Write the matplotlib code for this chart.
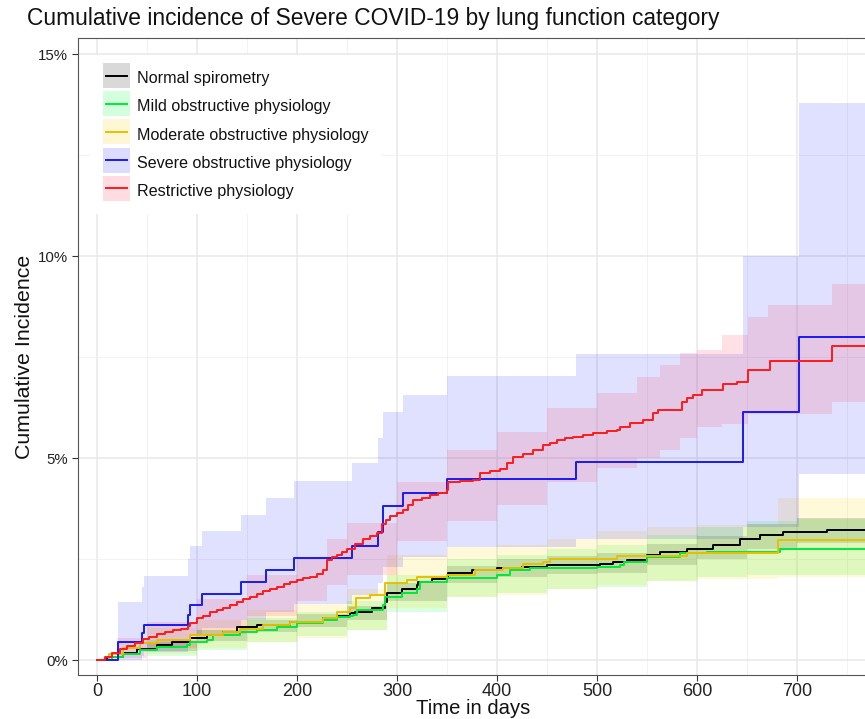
import matplotlib
matplotlib.use("Agg")
import matplotlib.pyplot as plt
from matplotlib.patches import Rectangle
from matplotlib.lines import Line2D
from matplotlib.legend_handler import HandlerBase

plt.rcParams['font.family'] = ['Liberation Sans', 'DejaVu Sans']

title = "Cumulative incidence of Severe COVID-19 by lung function category"
xlabel = "Time in days"
ylabel = "Cumulative Incidence"
x_ticks = [0, 100, 200, 300, 400, 500, 600, 700]
y_ticks = [0, 5, 10, 15]
y_tick_labels = ["0%", "5%", "10%", "15%"]

labels = ["Normal spirometry", "Mild obstructive physiology",
          "Moderate obstructive physiology", "Severe obstructive physiology",
          "Restrictive physiology"]

# ---- Normal spirometry
normal_t = [0, 10, 26, 40, 60, 75, 93, 110, 126, 140, 160, 193, 226, 240, 253, 258, 275, 288, 290, 305,
            320, 321, 335, 350, 351, 375, 400, 425, 450, 483, 503, 516, 530, 550, 563, 590, 616, 643,
            663, 686, 730, 770]
normal_v = [0, 0.08, 0.17, 0.27, 0.37, 0.45, 0.54, 0.62, 0.70, 0.82, 0.87, 0.95, 1.03, 1.10, 1.16, 1.20,
            1.30, 1.44, 1.65, 1.75, 1.86, 1.94, 2.00, 2.06, 2.16, 2.22, 2.27, 2.31, 2.35, 2.35, 2.39, 2.42,
            2.48, 2.60, 2.68, 2.76, 2.85, 2.99, 3.09, 3.18, 3.22, 3.22]
normal_ci_t = [0, 50, 100, 150, 200, 250, 290, 350, 400, 450, 500, 550, 600, 650, 700, 770]
normal_lo = [0, 0.22, 0.47, 0.70, 0.82, 0.98, 1.45, 1.90, 2.05, 2.12, 2.15, 2.35, 2.50, 2.75, 2.90, 2.92]
normal_hi = [0, 0.45, 0.75, 1.00, 1.13, 1.33, 1.90, 2.32, 2.50, 2.58, 2.65, 2.88, 3.08, 3.38, 3.52, 3.55]

# ---- Mild obstructive
mild_t = [0, 15, 26, 43, 60, 90, 93, 110, 116, 143, 160, 180, 200, 226, 240, 253, 256, 260, 286, 288,
          305, 320, 323, 350, 400, 413, 433, 466, 500, 523, 527, 550, 583, 610, 683, 770]
mild_v = [0, 0.07, 0.15, 0.25, 0.33, 0.37, 0.45, 0.50, 0.62, 0.70, 0.74, 0.82, 0.91, 0.99, 1.07, 1.09,
          1.11, 1.24, 1.36, 1.57, 1.65, 1.77, 1.94, 2.02, 2.10, 2.23, 2.27, 2.29, 2.31, 2.35, 2.43, 2.56,
          2.64, 2.68, 2.75, 2.75]
mild_ci_t = [0, 50, 100, 150, 200, 250, 290, 350, 400, 450, 500, 550, 600, 650, 700, 770]
mild_lo = [0, 0.10, 0.25, 0.45, 0.60, 0.75, 1.20, 1.55, 1.65, 1.75, 1.80, 1.95, 2.05, 2.10, 2.10, 2.10]
mild_hi = [0, 0.50, 0.75, 1.05, 1.20, 1.45, 2.10, 2.50, 2.60, 2.75, 2.85, 3.10, 3.30, 3.45, 3.50, 3.50]

# ---- Moderate obstructive
mod_t = [0, 12, 26, 43, 60, 93, 126, 143, 166, 193, 226, 240, 253, 259, 273, 288, 310, 320, 350, 378,
         406, 426, 446, 453, 520, 590, 681, 770]
mod_v = [0, 0.15, 0.29, 0.41, 0.50, 0.62, 0.70, 0.78, 0.87, 0.95, 1.03, 1.20, 1.28, 1.53, 1.61, 1.90,
         1.98, 2.06, 2.10, 2.23, 2.27, 2.39, 2.43, 2.49, 2.58, 2.66, 2.97, 2.97]
mod_ci_t = [0, 50, 100, 150, 200, 250, 290, 350, 400, 450, 500, 550, 600, 681, 770]
mod_lo = [0, 0.15, 0.30, 0.45, 0.55, 0.75, 1.30, 1.55, 1.60, 1.75, 1.85, 1.95, 2.00, 2.05, 2.05]
mod_hi = [0, 0.80, 1.00, 1.25, 1.40, 1.75, 2.60, 2.80, 2.85, 3.00, 3.20, 3.30, 3.35, 4.00, 4.00]

# ---- Severe obstructive
sev_t = [0, 21, 45, 47, 91, 93, 105, 144, 169, 197, 255, 281, 286, 306, 350, 479, 646, 702, 770]
sev_v = [0, 0.44, 0.66, 0.87, 1.11, 1.36, 1.63, 1.92, 2.23, 2.52, 2.83, 3.18, 3.81, 4.14, 4.48, 4.91,
         6.13, 8.00, 8.00]
sev_lo = [0, 0.0, 0.10, 0.20, 0.45, 0.60, 0.80, 1.00, 1.20, 1.40, 1.60, 1.90, 2.30, 2.55, 2.80, 3.00,
          3.30, 4.60, 4.60]
sev_hi = [0, 1.44, 1.80, 2.09, 2.50, 2.82, 3.19, 3.60, 4.00, 4.43, 4.87, 5.50, 6.15, 6.56, 7.03, 7.57,
          10.0, 13.8, 13.8]

# ---- Restrictive
res_t = [0, 8, 15, 23, 30, 38, 46, 52, 60, 68, 76, 84, 91, 93, 100, 106, 113, 120, 126, 133, 140, 146,
         153, 160, 166, 173, 180, 187, 193, 200, 206, 213, 220, 226, 230, 235, 240, 245, 250, 258, 266,
         273, 280, 285, 289, 293, 300, 306, 311, 316, 325, 333, 341, 350, 351, 363, 376, 383, 393, 403,
         410, 416, 426, 436, 446, 453, 460, 468, 476, 486, 496, 510, 520, 523, 533, 546, 556, 561, 585,
         590, 596, 605, 626, 640, 651, 673, 735, 770]
res_v = [0, 0.08, 0.17, 0.28, 0.36, 0.42, 0.52, 0.58, 0.64, 0.70, 0.74, 0.78, 0.84, 0.92, 1.03, 1.10,
         1.18, 1.25, 1.30, 1.36, 1.43, 1.50, 1.57, 1.63, 1.70, 1.77, 1.82, 1.88, 1.94, 1.98, 2.02, 2.06,
         2.12, 2.23, 2.48, 2.54, 2.60, 2.68, 2.76, 2.88, 3.00, 3.07, 3.14, 3.38, 3.47, 3.56, 3.63, 3.71,
         3.83, 3.96, 4.02, 4.08, 4.14, 4.20, 4.41, 4.43, 4.46, 4.64, 4.69, 4.74, 4.88, 5.03, 5.10, 5.20,
         5.32, 5.38, 5.45, 5.49, 5.53, 5.58, 5.63, 5.66, 5.69, 5.78, 5.88, 5.94, 6.11, 6.20, 6.40, 6.48,
         6.56, 6.68, 6.83, 6.88, 7.18, 7.41, 7.77, 7.77]
res_ci_t = [0, 20, 50, 100, 150, 200, 230, 250, 300, 350, 400, 450, 500, 540, 563, 583, 600, 625, 651,
            671, 735, 770]
res_lo = [0, 0.05, 0.30, 0.65, 1.10, 1.45, 1.85, 2.10, 2.95, 3.45, 3.85, 4.40, 4.75, 5.00, 5.20, 5.50,
          5.78, 5.85, 6.10, 6.10, 6.40, 6.40]
res_hi = [0, 0.55, 0.95, 1.50, 2.10, 2.55, 3.00, 3.40, 4.40, 5.20, 5.65, 6.25, 6.60, 7.00, 7.30, 7.59,
          7.67, 8.04, 8.50, 8.79, 9.32, 9.32]

line_colors = ["#000000", "#00E83A", "#E6C000", "#1A1AF0", "#FF1A1A"]
fill_colors = ["#000000", "#00FF33", "#FFD500", "#3333FF", "#FF3355"]
fill_alpha = [0.15, 0.15, 0.15, 0.15, 0.15]

series = [
    (normal_t, normal_v, normal_ci_t, normal_lo, normal_hi),
    (mild_t, mild_v, mild_ci_t, mild_lo, mild_hi),
    (mod_t, mod_v, mod_ci_t, mod_lo, mod_hi),
    (sev_t, sev_v, sev_t, sev_lo, sev_hi),
    (res_t, res_v, res_ci_t, res_lo, res_hi),
]

fs_title, fs_xlab, fs_ylab, fs_tick_x, fs_tick_y, fs_leg = 16.4, 14.6, 15.4, 13.0, 10.8, 11.6

W, H = 865, 719
fig = plt.figure(figsize=(W / 100, H / 100), dpi=100)
L, R, T, B = 78, 868, 38, 675
ax = fig.add_axes([L / W, 1 - B / H, (R - L) / W, (B - T) / H])

for i, (t, v, ct, lo, hi) in enumerate(series):
    ax.fill_between(ct, lo, hi, step='post', color=fill_colors[i], alpha=fill_alpha[i],
                    linewidth=0, zorder=1)
for i, (t, v, ct, lo, hi) in enumerate(series):
    ax.step(t, v, where='post', color=line_colors[i], lw=1.4, zorder=3)

ax.set_xlim(-19, 771)
ax.set_ylim(-0.37, 15.4)
ax.set_xticks(x_ticks)
ax.set_xticks([50, 150, 250, 350, 450, 550, 650, 750], minor=True)
ax.set_yticks(y_ticks)
ax.set_yticklabels(y_tick_labels)
ax.set_yticks([2.5, 7.5, 12.5], minor=True)
ax.grid(True, which='major', color='#E8E8E8', lw=1.1, zorder=0)
ax.grid(True, which='minor', color='#F0F0F0', lw=0.6, zorder=0)
ax.set_axisbelow(True)
ax.tick_params(which='major', length=4, width=0.8, color='#333333', labelcolor='#222222', pad=3)
ax.tick_params(axis='x', labelsize=fs_tick_x, pad=2)
ax.tick_params(axis='y', labelsize=fs_tick_y)
ax.tick_params(which='minor', length=0)
for s in ['left', 'bottom', 'top']:
    ax.spines[s].set_color('#555555')
    ax.spines[s].set_linewidth(0.8)
ax.spines['right'].set_visible(False)

ax.set_xlabel(xlabel, fontsize=fs_xlab, labelpad=-1, color='#111111')
ax.set_ylabel(ylabel, fontsize=fs_ylab, labelpad=3, color='#111111')
fig.text(27 / W, 1 - 19 / H, title, fontsize=fs_title, va='center', ha='left', color='#111111')


class KeyHandler(HandlerBase):
    def create_artists(self, legend, orig_handle, xdescent, ydescent, width, height, fontsize, trans):
        lc, fc, fa = orig_handle
        rect = Rectangle((-xdescent, -ydescent), width, height + ydescent,
                         facecolor=fc, alpha=fa, edgecolor='none', transform=trans)
        yc = (height - ydescent) / 2
        ln = Line2D([-xdescent + 2, -xdescent + width - 2], [yc, yc], color=lc, lw=1.4,
                    transform=trans)
        return [rect, ln]


handles = [(line_colors[i], fill_colors[i], 0.15 if i == 0 else 0.17) for i in range(5)]
fs_px = fs_leg * 100 / 72
leg = ax.legend(handles, labels, handler_map={tuple: KeyHandler()},
                loc='upper left', bbox_to_anchor=((90 - L) / (R - L), 1 - (55 - T) / (B - T)),
                fontsize=fs_leg, frameon=True, fancybox=False, framealpha=1.0, edgecolor='none',
                handlelength=27 / fs_px, handleheight=25 / fs_px, labelspacing=8 / fs_px,
                handletextpad=7 / fs_px, borderpad=0.8, borderaxespad=0)
for txt in leg.get_texts():
    txt.set_color('#111111')

fig.savefig("out.png", dpi=100)
